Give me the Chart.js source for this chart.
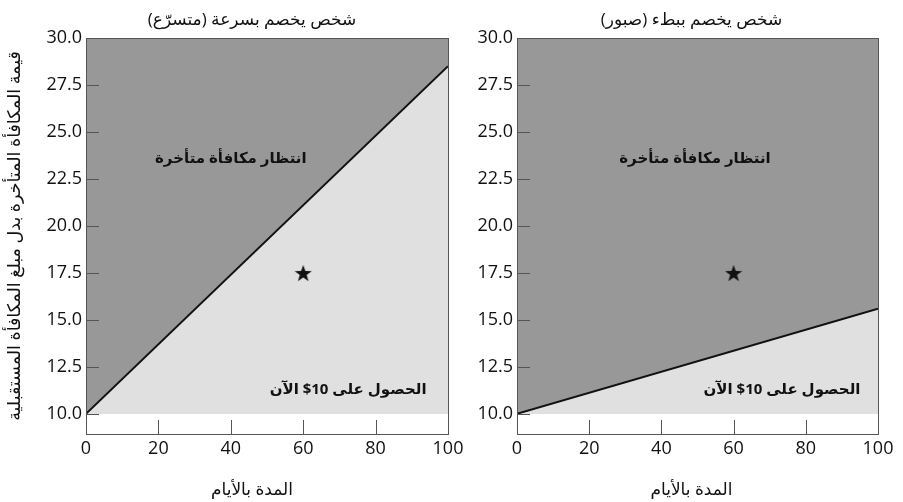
<!DOCTYPE html>
<html>
<head>
<meta charset="utf-8">
<script src="https://cdn.jsdelivr.net/npm/chart.js@4.4.0/dist/chart.umd.min.js"></script>
<style>
  body { margin: 0; background: #fff; }
  #wrap { position: relative; width: 903px; height: 502px; overflow: hidden; }
  canvas { position: absolute; top: 0; }
</style>
</head>
<body>
<div id="wrap">
  <canvas id="fastChart" width="480" height="502" style="left:0"></canvas>
  <canvas id="slowChart" width="443" height="502" style="left:460px"></canvas>
</div>
<script>
// datele graficului
const days = [0, 100];
const fastLine = [10, 28.5];   // cel care "scontează" repede
const slowLine = [10, 15.6];   // cel răbdător
const offerDays = [60];
const offerValue = [17.5];
const xTicks = [0, 20, 40, 60, 80, 100];
const yTicks = [10, 12.5, 15, 17.5, 20, 22.5, 25, 27.5, 30];
const nowFloor = 10;

const FONT = "'Open Sans', 'DejaVu Sans', sans-serif";
const darkGray = 'rgb(152, 152, 152)';
const lightGray = 'rgb(224, 224, 224)';

const toPoints = (xs, ys) => xs.map((x, i) => ({ x: x, y: ys[i] }));

// steaua neagră pentru punctul de ofertă
function makeStar(size) {
  const c = document.createElement('canvas');
  c.width = c.height = size;
  const g = c.getContext('2d');
  const R = size / 2, r = R * 0.4, cx = size / 2, cy = size / 2 + 1;
  g.beginPath();
  for (let i = 0; i < 10; i++) {
    const rad = i % 2 ? r : R;
    const a = -Math.PI / 2 + i * Math.PI / 5;
    g.lineTo(cx + rad * Math.cos(a), cy + rad * Math.sin(a));
  }
  g.closePath();
  g.fillStyle = '#111';
  g.fill();
  return c;
}
const starImg = makeStar(18);

// ticks spre interior, cadru, titluri si etichete
const decorations = {
  id: 'decorations',
  afterDatasetsDraw(chart, args, opts) {
    const { ctx, chartArea: a, scales: { x, y } } = chart;
    ctx.save();
    ctx.strokeStyle = '#555';
    ctx.lineWidth = 1;
    ctx.beginPath();
    x.ticks.forEach(t => {
      const px = Math.round(x.getPixelForValue(t.value)) + 0.5;
      ctx.moveTo(px, a.bottom);
      ctx.lineTo(px, a.bottom - 14);
    });
    y.ticks.forEach(t => {
      const py = Math.round(y.getPixelForValue(t.value)) + 0.5;
      ctx.moveTo(a.left, py);
      ctx.lineTo(a.left + 13, py);
    });
    ctx.stroke();
    ctx.strokeRect(Math.round(a.left) + 0.5, Math.round(a.top) + 0.5,
      Math.round(a.right - a.left), Math.round(a.bottom - a.top));

    ctx.fillStyle = '#111';
    ctx.textAlign = 'center';
    ctx.textBaseline = 'middle';
    const cx = (a.left + a.right) / 2 + opts.shift;
    ctx.font = '17px ' + FONT;
    ctx.fillText(opts.title, cx, 20);
    ctx.fillText(opts.xTitle, cx, 490);

    ctx.font = 'bold 15px ' + FONT;
    opts.labels.forEach(l => {
      ctx.fillText(l.text, x.getPixelForValue(l.x), y.getPixelForValue(l.y));
    });
    ctx.restore();
  }
};

function makeChart(id, lineValues, cfg) {
  return new Chart(document.getElementById(id), {
    type: 'line',
    data: {
      datasets: [
        { data: toPoints(days, lineValues), fill: 'end', backgroundColor: darkGray,
          borderWidth: 0, pointRadius: 0, order: 2 },
        { data: toPoints(days, lineValues), fill: { value: nowFloor }, backgroundColor: lightGray,
          borderColor: '#111', borderWidth: 2, pointRadius: 0, order: 1 },
        { data: toPoints(offerDays, offerValue), showLine: false, fill: false,
          pointStyle: starImg, pointRadius: 9, order: 0 }
      ]
    },
    options: {
      responsive: false,
      animation: false,
      devicePixelRatio: 1,
      layout: { padding: { top: 38, right: cfg.padRight, left: 0, bottom: 0 } },
      plugins: {
        legend: { display: false },
        tooltip: { enabled: false },
        decorations: cfg.deco
      },
      scales: {
        x: {
          type: 'linear', min: 0, max: 100,
          grid: { display: false, drawTicks: false }, border: { display: false },
          afterBuildTicks: s => { s.ticks = xTicks.map(v => ({ value: v })); },
          afterFit: s => { s.height = 68; },
          ticks: { font: { family: FONT, size: 18 }, color: '#111', padding: 4,
                   maxRotation: 0, autoSkip: false }
        },
        y: {
          type: 'linear', min: 8.93, max: 30,
          grid: { display: false, drawTicks: false }, border: { display: false },
          afterBuildTicks: s => { s.ticks = yTicks.map(v => ({ value: v })); },
          afterFit: s => { s.width = cfg.yWidth; },
          ticks: { font: { family: FONT, size: 18 }, color: '#111', padding: 4,
                   autoSkip: false, callback: v => v.toFixed(1) },
          title: cfg.yTitle
        }
      }
    },
    plugins: [decorations]
  });
}

makeChart('fastChart', fastLine, {
  padRight: 32,
  yWidth: 86,
  yTitle: { display: true, text: 'قيمة المكافأة المتأخرة بدل مبلغ المكافأة المستقبلية',
            font: { family: FONT, size: 17.5 }, color: '#111', padding: { top: 5, bottom: 0 } },
  deco: {
    title: 'شخص يخصم بسرعة (متسرّع)',
    xTitle: 'المدة بالأيام',
    shift: -15,
    labels: [
      { text: 'انتظار مكافأة متأخرة', x: 40, y: 23.6 },
      { text: 'الحصول على 10$ الآن', x: 72.4, y: 11.3 }
    ]
  }
});

makeChart('slowChart', slowLine, {
  padRight: 25,
  yWidth: 57,
  yTitle: { display: false },
  deco: {
    title: 'شخص يخصم ببطء (صبور)',
    xTitle: 'المدة بالأيام',
    shift: -6,
    labels: [
      { text: 'انتظار مكافأة متأخرة', x: 49.3, y: 23.6 },
      { text: 'الحصول على 10$ الآن', x: 73.4, y: 11.3 }
    ]
  }
});
</script>
</body>
</html>
